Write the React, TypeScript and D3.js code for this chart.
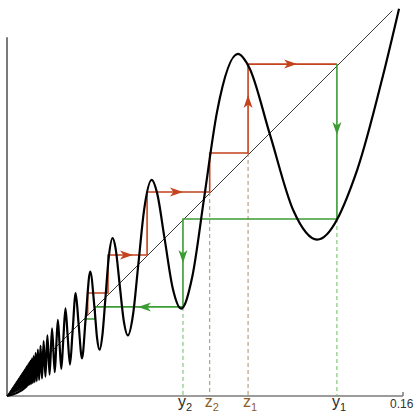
import React from 'react';
import * as d3 from 'd3';

// curve y = f(x): extrema, diagonal crossings and a few in-between points, left to right
const curveX = [
  0, 0.00786, 0.00806, 0.00827, 0.00849, 0.00872, 0.00897, 0.00923, 0.0095, 0.00979, 0.01011,
  0.01044, 0.01079, 0.01117, 0.01157, 0.01201, 0.01248, 0.01299, 0.01355, 0.01415, 0.01481,
  0.01553, 0.01632, 0.01721, 0.01819, 0.01929, 0.01989, 0.02056, 0.02122, 0.02195, 0.02274,
  0.02362, 0.02449, 0.02545, 0.02653, 0.02774, 0.02894, 0.0303, 0.03183, 0.03362, 0.03537,
  0.03638, 0.0374, 0.03858, 0.03979, 0.04107, 0.04267, 0.04391, 0.04547, 0.04716, 0.04885,
  0.05093, 0.05305, 0.05536, 0.05846, 0.06063, 0.06366, 0.06701, 0.07038, 0.0749, 0.07958,
  0.08488, 0.0933, 0.09794, 0.1061, 0.11575, 0.1253, 0.1415, 0.152, 0.1584,
];
const curveY = [
  0, 0.0039, 0.0121, 0.0041, 0.0127, 0.0044, 0.0135, 0.0046, 0.0143, 0.0049, 0.0152,
  0.0052, 0.0162, 0.0056, 0.0174, 0.006, 0.0187, 0.0065, 0.0203, 0.0071, 0.0222,
  0.0078, 0.0245, 0.0086, 0.0273, 0.0096, 0.01989, 0.0308, 0.02122, 0.011, 0.02274,
  0.0354, 0.02449, 0.0127, 0.02653, 0.0416, 0.02894, 0.0152, 0.03183, 0.0503, 0.03537,
  0.02352, 0.0187, 0.02494, 0.03979, 0.05559, 0.0638, 0.05943, 0.04547, 0.03048, 0.0245,
  0.03292, 0.05305, 0.07493, 0.0873, 0.08207, 0.06366, 0.04332, 0.0353, 0.04841, 0.07958,
  0.1149, 0.1382, 0.13257, 0.1061, 0.07482, 0.0632, 0.0914, 0.1298, 0.1565,
];

// solid wedge where the oscillations merge near the origin
const wedgeX = [0, 0.00806, 0.00786];
const wedgeY = [0, 0.0121, 0.0039];

// cobweb paths
const redX = [0.0326, 0.0326, 0.0408, 0.0408, 0.0566, 0.0566, 0.0819, 0.0819, 0.0974, 0.0974, 0.1333];
const redY = [0.0325, 0.0416, 0.0416, 0.057, 0.057, 0.0824, 0.0824, 0.0982, 0.0982, 0.1341, 0.1341];
const greenX = [0.1333, 0.1333, 0.0711, 0.0711, 0.0356, 0.0356, 0.0311];
const greenY = [0.1341, 0.0715, 0.0715, 0.036, 0.036, 0.0311, 0.0311];

// arrow tips: x, y, angle in degrees (0 = right)
const redArrows: [number, number, number][] = [
  [0.0509, 0.057, 0],
  [0.0711, 0.0824, 0],
  [0.0974, 0.1216, -90],
  [0.1172, 0.1341, 0],
];
const greenArrows: [number, number, number][] = [
  [0.1333, 0.1055, 90],
  [0.0711, 0.0537, 90],
  [0.0529, 0.036, 180],
];

// dashed drop lines and their labels
const drops = [
  { x: 0.0711, top: 0.036, name: 'y', sub: '2', kind: 'y' },
  { x: 0.0819, top: 0.0824, name: 'z', sub: '2', kind: 'z' },
  { x: 0.0974, top: 0.0982, name: 'z', sub: '1', kind: 'z' },
  { x: 0.1333, top: 0.0715, name: 'y', sub: '1', kind: 'y' },
];

const diagEnd = 0.1557;
const yAxisTop = 0.145;
const xMax = 0.16;

const RED = '#c4421c';
const GREEN = '#3c9c34';
const BROWN = '#8e5d26';

export default function App() {
  const width = 417;
  const height = 415;
  const x = d3.scaleLinear().domain([0, xMax]).range([7, 403]);
  const y = d3.scaleLinear().domain([0, xMax]).range([396, 0]);

  const curvePts = curveX.map((v, i) => [v, curveY[i]] as [number, number]);
  const curveLine = d3
    .line<[number, number]>()
    .x((d) => x(d[0]))
    .y((d) => y(d[1]))
    .curve(d3.curveMonotoneX);

  const poly = d3
    .line<[number, number]>()
    .x((d) => x(d[0]))
    .y((d) => y(d[1]));

  const redPts = redX.map((v, i) => [v, redY[i]] as [number, number]);
  const greenPts = greenX.map((v, i) => [v, greenY[i]] as [number, number]);
  const wedgePts = wedgeX.map((v, i) => [v, wedgeY[i]] as [number, number]);

  const arrowPath = 'M0,0 L-13,-4.5 L-9.5,0 L-13,4.5 Z';
  const font = '"Liberation Sans", Arial, sans-serif';

  return (
    <svg width={width} height={height} style={{ position: 'absolute', left: 0, top: 0, background: '#fff' }}>
      {/* axes */}
      <line x1={x(0)} y1={y(0)} x2={x(0)} y2={y(yAxisTop)} stroke="#7a7a7a" strokeWidth={2} />
      <line x1={x(0)} y1={y(0)} x2={x(xMax)} y2={y(0)} stroke="#7a7a7a" strokeWidth={1.5} />
      <line x1={x(xMax)} y1={y(0)} x2={x(xMax)} y2={y(0) - 4} stroke="#7a7a7a" strokeWidth={1.5} />
      <text x={x(xMax) - 13} y={408} fontFamily={font} fontSize={12} fill="#333">
        0.16
      </text>

      {/* diagonal y = x */}
      <line x1={x(0)} y1={y(0)} x2={x(diagEnd)} y2={y(diagEnd)} stroke="#222" strokeWidth={0.9} />

      {/* dashed drop lines */}
      {drops.map((d, i) => (
        <line
          key={i}
          x1={x(d.x)}
          y1={y(d.top)}
          x2={x(d.x)}
          y2={y(0)}
          stroke={d.kind === 'y' ? '#6dbb62' : '#a98c6a'}
          strokeWidth={1}
          strokeDasharray="4,3"
        />
      ))}

      {/* cobweb */}
      <path d={poly(redPts) ?? ''} fill="none" stroke={RED} strokeWidth={1.6} />
      <path d={poly(greenPts) ?? ''} fill="none" stroke={GREEN} strokeWidth={1.6} />

      {/* the oscillating curve */}
      <path d={(poly(wedgePts) ?? '') + 'Z'} fill="#000" stroke="#000" strokeWidth={1} />
      <path d={curveLine(curvePts) ?? ''} fill="none" stroke="#000" strokeWidth={2.2} strokeLinejoin="round" />

      {/* arrows */}
      {redArrows.map(([ax, ay, ang], i) => (
        <path key={'r' + i} d={arrowPath} fill={RED} transform={`translate(${x(ax)},${y(ay)}) rotate(${ang})`} />
      ))}
      {greenArrows.map(([ax, ay, ang], i) => (
        <path key={'g' + i} d={arrowPath} fill={GREEN} transform={`translate(${x(ax)},${y(ay)}) rotate(${ang})`} />
      ))}

      {/* labels */}
      {drops.map((d, i) => (
        <text
          key={'t' + i}
          x={x(d.x) - 5}
          y={407}
          fontFamily={font}
          fontSize={16}
          fill={d.kind === 'y' ? '#2a2a2a' : BROWN}
        >
          {d.name}
          <tspan fontSize={11} dy={4}>
            {d.sub}
          </tspan>
        </text>
      ))}
    </svg>
  );
}
